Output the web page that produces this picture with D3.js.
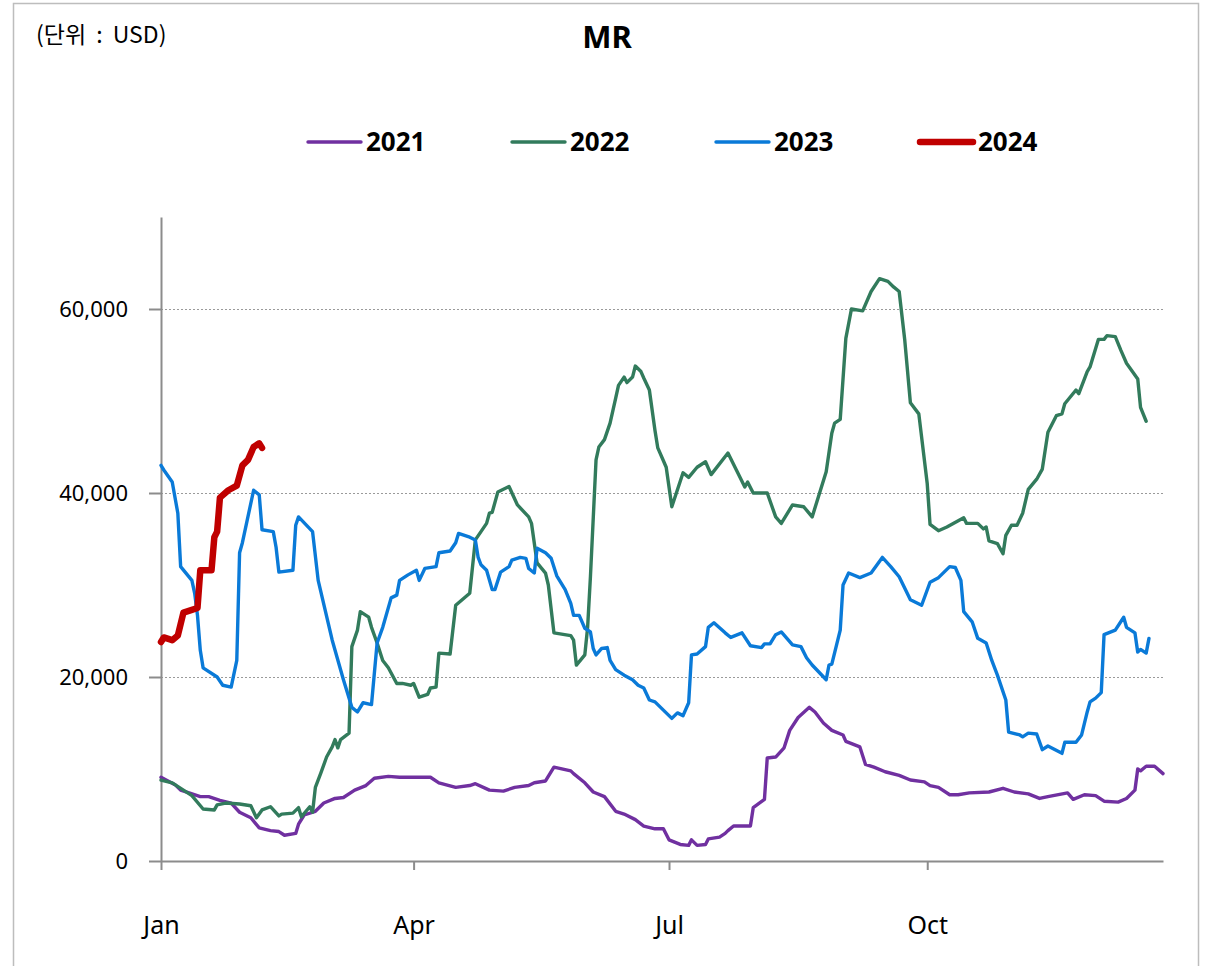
<!DOCTYPE html>
<meta charset="utf-8">
<style>
body { margin: 0; background: #fff; }
text { font-family: "Noto Sans", "Noto Sans CJK KR", sans-serif; }
.grid line { stroke: #9a9a9a; stroke-dasharray: 2,2; }
</style>
<svg width="1209" height="966" class="chart"></svg>
<script src="https://d3js.org/d3.v7.min.js"></script>
<script>

// day of year -> value (USD)
var days2021 = [0,5,7,10,14,17,21,25,28,32,35,39,42,44,48,49,51,55,58,62,65,69,73,76,81,85,90,96,99,105,110,112,117,122,126,131,133,137,140,146,147,151,154,158,162,165,169,172,176,179,181,185,188,189,191,194,195,199,201,202,204,210,211,215,216,219,222,224,227,231,233,236,239,243,244,249,251,254,258,263,267,272,274,277,281,284,288,295,300,304,309,313,316,323,325,329,333,336,341,344,347,348,349,351,354,357];
var values2021 = [9100,8300,7700,7400,7000,7000,6600,6300,5300,4700,3600,3300,3200,2800,3000,4000,5000,5400,6300,6800,6900,7700,8200,9000,9200,9100,9100,9100,8500,8000,8200,8400,7700,7600,8000,8200,8500,8700,10200,9800,9500,8500,7500,7000,5400,5100,4500,3800,3500,3500,2300,1800,1700,2300,1700,1800,2400,2600,3000,3300,3800,3800,5800,6700,11200,11300,12300,14200,15600,16700,16200,15000,14200,13700,13000,12400,10500,10200,9700,9300,8800,8600,8200,8000,7200,7200,7400,7500,7900,7500,7300,6800,7000,7400,6700,7200,7100,6500,6400,6800,7700,10000,9800,10300,10300,9500];

var days2022 = [0,4,8,11,15,19,20,23,28,32,34,36,39,42,43,47,49,50,53,54,55,57,59,61,62,63,64,67,68,70,71,74,75,77,79,81,84,86,89,90,92,95,96,98,99,103,105,110,112,116,117,118,120,124,127,131,132,134,137,138,140,146,147,148,151,152,153,155,156,158,160,162,163,165,166,168,169,171,172,174,176,177,179,180,182,186,188,191,194,196,202,205,208,209,211,216,219,221,225,229,232,237,239,240,242,244,246,250,253,256,259,261,263,265,267,270,273,274,277,280,286,287,291,293,294,295,298,300,301,303,305,307,309,312,314,316,319,321,322,326,327,330,331,334,336,337,340,342,344,348,349,351];
var values2022 = [8800,8500,7700,7100,5650,5550,6100,6300,6200,6000,4700,5550,5900,4900,5100,5200,5800,4800,5900,5300,8000,9600,11300,12400,13200,12300,13200,13900,23300,25100,27100,26500,25400,23700,21800,21000,19300,19300,19100,19300,17800,18100,18800,18900,22600,22500,27800,29100,34900,36700,37800,37900,40100,40700,38700,37400,36700,32400,31300,30000,24800,24500,24000,21300,22400,25400,30900,43600,45000,45800,47600,50300,51700,52600,52000,52600,53800,53200,52500,51200,46800,44900,43500,42800,38500,42200,41700,42800,43400,42000,44350,42500,40650,41200,40000,40000,37400,36700,38700,38500,37400,42300,46500,47600,48000,56800,60000,59800,61900,63300,63000,62400,61900,56600,49800,48600,41000,36600,35900,36300,37300,36700,36700,36100,36300,34800,34500,33400,35400,36500,36500,37800,40400,41500,42600,46600,48400,48600,49700,51200,50800,53200,53700,56700,56700,57100,57000,55500,54100,52400,49300,47800];

var days2023 = [0,1,4,6,7,11,12,13,14,15,20,22,25,27,28,29,33,35,36,40,41,42,47,48,49,54,56,61,65,68,70,72,75,77,79,82,84,85,88,91,92,94,98,99,103,105,106,110,112,113,114,116,118,119,121,124,125,128,130,131,133,134,137,139,141,144,146,147,149,151,153,154,155,157,159,160,162,165,168,170,172,174,176,179,182,184,186,188,189,191,194,195,197,201,203,207,210,214,215,217,219,221,223,225,228,230,232,237,238,239,242,243,245,249,253,257,260,263,267,271,274,277,281,283,285,286,289,291,294,296,298,301,302,306,307,309,312,314,316,321,322,326,328,330,331,333,335,336,340,343,344,347,348,349,351,352];
var values2023 = [43000,42500,41200,37800,32000,30500,29100,26700,22900,21000,20000,19100,18900,21800,33500,34600,40300,39800,36000,35800,34100,31400,31600,36500,37400,35800,30500,24000,19700,16700,16200,17200,17000,23700,25400,28600,28900,30500,31100,31600,30500,31800,32000,33500,33700,34600,35600,35200,34900,33000,32200,31600,29500,29500,31400,32000,32700,33000,32900,31800,31300,34000,33500,32900,31000,29500,28000,26700,26700,25300,24900,23100,22400,23100,23200,21800,20800,20200,19700,19100,18800,17500,17300,16400,15500,16100,15800,17200,22400,22500,23300,25400,25900,24800,24300,24800,23400,23200,23600,23600,24600,24900,24200,23500,23300,22100,21300,19700,21300,21400,25100,30000,31300,30800,31300,33000,32000,30900,28400,27800,30300,30800,32000,31900,30500,27100,26000,24200,23700,21800,20200,17500,14000,13700,13500,13900,13800,12100,12500,11700,12900,12900,13700,16200,17300,17700,18300,24600,25100,26500,25400,24800,22700,23000,22600,24200];

var days2024 = [0,1,4,6,8,11,13,14,18,19,20,21,24,27,29,31,33,35,36];
var values2024 = [23800,24300,24000,24500,27000,27300,27500,31600,31600,35200,35800,39500,40300,40800,43000,43600,45000,45400,44900];

var years = ["2021", "2022", "2023", "2024"];
var colors = ["#7030a0", "#327b5c", "#0a7ad8", "#c00000"];
var widths = [3.4, 3.4, 3.4, 6.5];
var yTicks = [0, 20000, 40000, 60000];
var monthDays = [0, 90, 181, 273];
var monthLabels = ["Jan", "Apr", "Jul", "Oct"];

var series = [
  {days: days2021, values: values2021},
  {days: days2022, values: values2022},
  {days: days2023, values: values2023},
  {days: days2024, values: values2024}
];

var svg = d3.select(".chart");

// outer frame
svg.append("rect")
    .attr("x", 13.5).attr("y", 3.5)
    .attr("width", 1185).attr("height", 1000)
    .attr("fill", "none").attr("stroke", "#bdbdbd").attr("stroke-width", 1.5);

var x = d3.scaleLinear().domain([0, 357]).range([161, 1163]);
var y = d3.scaleLinear().domain([0, 70000]).range([861, 217]);

// grid
svg.append("g").attr("class", "grid")
  .selectAll("line")
  .data(yTicks.slice(1))
  .enter().append("line")
    .attr("x1", x(0)).attr("x2", x(357))
    .attr("y1", function(d) { return y(d) + 0.5; })
    .attr("y2", function(d) { return y(d) + 0.5; });

// y axis
var yAxis = svg.append("g")
    .attr("transform", "translate(" + x(0) + ",0)")
    .call(d3.axisLeft(y).tickValues(yTicks).tickSize(12).tickSizeOuter(0).tickPadding(21)
      .tickFormat(d3.format(",")));
yAxis.selectAll("text").attr("font-size", 22).attr("fill", "#000")
    .style("font-family", "'Noto Sans', sans-serif");

// x axis
var xAxis = svg.append("g")
    .attr("transform", "translate(0," + y(0) + ")")
    .call(d3.axisBottom(x).tickValues(monthDays).tickSize(9).tickSizeOuter(0).tickPadding(46)
      .tickFormat(function(d, i) { return monthLabels[i]; }));
xAxis.selectAll("text").attr("font-size", 25).attr("fill", "#000")
    .style("font-family", "'Noto Sans', sans-serif");

[yAxis, xAxis].forEach(function(a) {
  a.select(".domain").attr("stroke", "#8c8c8c").attr("stroke-width", 2);
  a.selectAll(".tick line").attr("stroke", "#8c8c8c").attr("stroke-width", 2);
});

// lines
var line = d3.line()
    .x(function(d) { return x(d[0]); })
    .y(function(d) { return y(d[1]); });

svg.append("g").selectAll("path")
  .data(series)
  .enter().append("path")
    .attr("fill", "none")
    .attr("stroke", function(d, i) { return colors[i]; })
    .attr("stroke-width", function(d, i) { return widths[i]; })
    .attr("stroke-linejoin", "round")
    .attr("stroke-linecap", "round")
    .attr("d", function(d) { return line(d.days.map(function(t, j) { return [t, d.values[j]]; })); });

// title + unit
svg.append("text")
    .attr("x", 607).attr("y", 48)
    .attr("text-anchor", "middle")
    .attr("font-size", 31).attr("font-weight", "bold")
    .text("MR");

svg.append("text")
    .attr("x", 36).attr("y", 43)
    .attr("font-size", 23)
    .attr("word-spacing", 5)
    .style("font-family", "'Noto Sans CJK KR', 'Noto Sans', sans-serif")
    .text("(단위 : USD)");

// legend
var legend = svg.append("g")
  .selectAll("g")
  .data(years)
  .enter().append("g")
    .attr("transform", function(d, i) { return "translate(" + (308 + i * 204) + ",142)"; });

legend.append("line")
    .attr("x1", 0).attr("x2", 53)
    .attr("stroke", function(d, i) { return colors[i]; })
    .attr("stroke-width", function(d, i) { return widths[i]; })
    .attr("stroke-linecap", "round");

legend.append("text")
    .attr("x", 58).attr("dy", "0.36em")
    .attr("font-size", 26).attr("font-weight", "bold")
    .text(function(d) { return d; });

</script>
